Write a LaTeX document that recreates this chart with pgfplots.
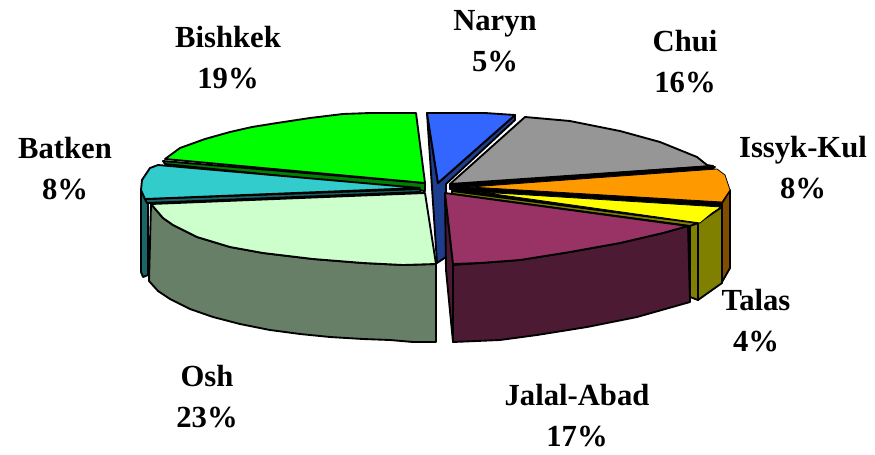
\documentclass[border=0pt]{standalone}
\usepackage{pgfplots}
\pgfplotsset{compat=1.18}
\usepackage{fontspec}
\setmainfont{Liberation Serif}
\definecolor{nar}{HTML}{3366FF}\definecolor{nard}{HTML}{1F3D8F}
\definecolor{chu}{HTML}{969696}\definecolor{chud}{HTML}{4B4B4B}
\definecolor{iss}{HTML}{FF9900}\definecolor{issd}{HTML}{7F4C00}
\definecolor{tal}{HTML}{FFFF00}\definecolor{tald}{HTML}{808000}
\definecolor{jal}{HTML}{993366}\definecolor{jald}{HTML}{4D1A33}
\definecolor{osh}{HTML}{CCFFCC}\definecolor{oshd}{HTML}{667F66}
\definecolor{bat}{HTML}{33CCCC}\definecolor{batd}{HTML}{1A6666}
\definecolor{bis}{HTML}{00FF00}\definecolor{bisd}{HTML}{008000}
\tikzset{lab/.style={font=\fontsize{23}{30.7}\selectfont\bfseries,align=center,anchor=center}}
\begin{document}
\begin{tikzpicture}
\begin{axis}[width=656.25pt,height=340.5pt,scale only axis,axis lines=none,
  xmin=0,xmax=875,ymin=0,ymax=454,y dir=reverse,clip=false,
  every axis plot/.append style={draw=black,line width=1.4pt,line join=round,mark=none}]
\path (axis cs:0,0) rectangle (axis cs:875,454);
% Bishkek
\addplot[fill=bisd] coordinates {(163,161)(425,183)(425,191)(165,164)} -- cycle;
\addplot[fill=bis] coordinates {(416,113)(425,183)(165,159)(180,148)(205,139)(230,132)(252,127)(277,123)(310,118)(343,114)(370,113)} -- cycle;
% Batken
\addplot[fill=batd] coordinates {(141,190)(145,199)(148,203)(148,275)(143,277)(141,272)} -- cycle;
\addplot[fill=batd] coordinates {(145,199)(420,189)(420,192)(147,203)} -- cycle;
\addplot[fill=bat] coordinates {(158,165)(420,188)(145,199)(141,190)(142,180)(150,168)} -- cycle;
% Naryn
\addplot[fill=nard] coordinates {(427,113)(438,183)(515,115)(515,120)(446,184)(446,257)(437,263)} -- cycle;
\addplot[fill=nar] coordinates {(427,113)(485,113)(515,115)(438,183)} -- cycle;
% Osh
\addplot[fill=oshd] coordinates {(151,204)(163,218)(173,225)(197,237)(230,247)(263,253)(313,259)(363,263)(403,265)(436,264)(436,342)(413,342)(390,340)(363,339)(330,337)(300,334)(270,330)(240,324)(213,317)(190,309)(170,299)(158,291)(149,281)} -- cycle;
\addplot[fill=osh] coordinates {(151,204)(425,193)(436,264)(403,265)(363,263)(313,259)(263,253)(230,247)(197,237)(173,225)(163,218)} -- cycle;
% Chui
\addplot[fill=chud] coordinates {(450,184)(715,167)(710,169)(450,189)} -- cycle;
\addplot[fill=chu] coordinates {(525,117)(570,121)(620,131)(660,142)(697,157)(707,165)(713,166)(450,184)} -- cycle;
% Issyk-Kul
\addplot[fill=issd] coordinates {(730,190)(730,268)(722,282)(722,203)} -- cycle;
\addplot[fill=black] coordinates {(452,185)(713,166)(722,205)(700,222)(480,198)(452,190)} -- cycle;
\addplot[fill=iss,line width=0.6pt] coordinates {(717,169)(725,175)(730,190)(722,202)(470,187)} -- cycle;
% Talas
\addplot[fill=tald] coordinates {(690,225)(698,223)(698,300)(690,297)} -- cycle;
\addplot[fill=tald] coordinates {(722,207)(722,283)(698,300)(698,223)} -- cycle;
\addplot[fill=tald] coordinates {(452,191)(698,223)(690,226)(452,194)} -- cycle;
\addplot[fill=tal,line width=0.6pt] coordinates {(721,207)(712,213)(700,223)(693,222)(480,192)} -- cycle;
% Jalal-Abad
\addplot[fill=jald] coordinates {(445,193)(453,264)(453,342)(446,270)} -- cycle;
\addplot[fill=jald] coordinates {(453,265)(480,263)(520,260)(570,252)(620,243)(663,233)(688,226)(690,302)(637,317)(587,327)(537,335)(500,340)(453,342)} -- cycle;
\addplot[fill=jal] coordinates {(445,193)(688,226)(663,233)(620,243)(570,252)(520,260)(480,263)(453,264)} -- cycle;
% Labels
\node[lab] at (axis cs:495,41) {Naryn\\5\%};
\node[lab] at (axis cs:685,62) {Chui\\16\%};
\node[lab] at (axis cs:803,168) {Issyk-Kul\\8\%};
\node[lab] at (axis cs:756,321) {Talas\\4\%};
\node[lab] at (axis cs:577,416) {Jalal-Abad\\17\%};
\node[lab] at (axis cs:207,397) {Osh\\23\%};
\node[lab] at (axis cs:65,169) {Batken\\8\%};
\node[lab] at (axis cs:228,58) {Bishkek\\19\%};
\end{axis}
\end{tikzpicture}
\end{document}
